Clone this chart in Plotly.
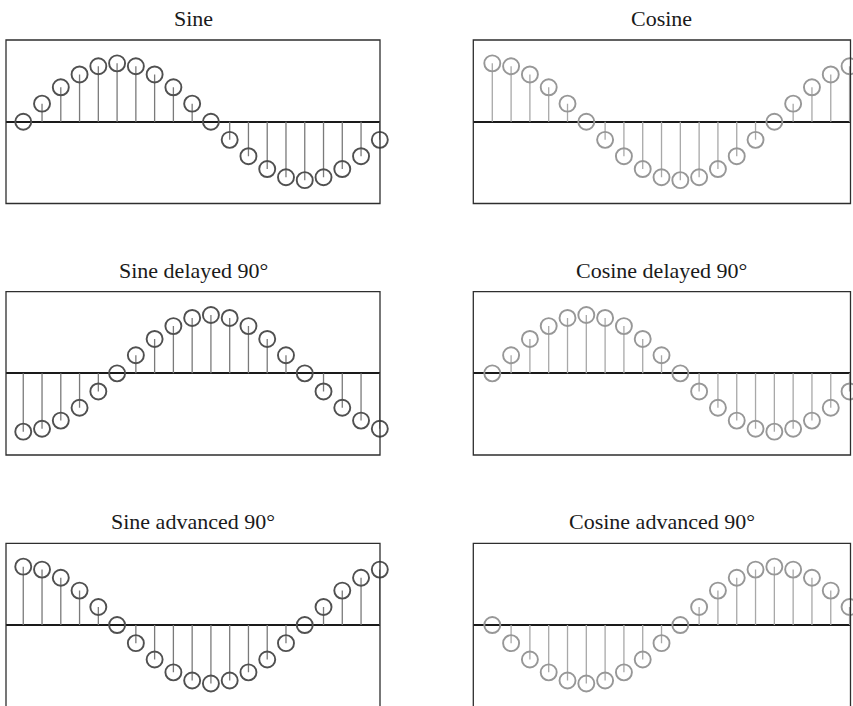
import plotly.graph_objects as go

# sample index shared by all panels
n = list(range(20))

sine = [0.0, 0.31, 0.59, 0.81, 0.95, 1.0, 0.95, 0.81, 0.59, 0.31,
        0.0, -0.31, -0.59, -0.81, -0.95, -1.0, -0.95, -0.81, -0.59, -0.31]
cosine = [1.0, 0.95, 0.81, 0.59, 0.31, 0.0, -0.31, -0.59, -0.81, -0.95,
          -1.0, -0.95, -0.81, -0.59, -0.31, 0.0, 0.31, 0.59, 0.81, 0.95]
sine_delayed = [-1.0, -0.95, -0.81, -0.59, -0.31, 0.0, 0.31, 0.59, 0.81, 0.95,
                1.0, 0.95, 0.81, 0.59, 0.31, 0.0, -0.31, -0.59, -0.81, -0.95]
cosine_delayed = [0.0, 0.31, 0.59, 0.81, 0.95, 1.0, 0.95, 0.81, 0.59, 0.31,
                  0.0, -0.31, -0.59, -0.81, -0.95, -1.0, -0.95, -0.81, -0.59, -0.31]
sine_advanced = [1.0, 0.95, 0.81, 0.59, 0.31, 0.0, -0.31, -0.59, -0.81, -0.95,
                 -1.0, -0.95, -0.81, -0.59, -0.31, 0.0, 0.31, 0.59, 0.81, 0.95]
cosine_advanced = [0.0, -0.31, -0.59, -0.81, -0.95, -1.0, -0.95, -0.81, -0.59, -0.31,
                   0.0, 0.31, 0.59, 0.81, 0.95, 1.0, 0.95, 0.81, 0.59, 0.31]

titles = ["Sine", "Cosine",
          "Sine delayed 90°", "Cosine delayed 90°",
          "Sine advanced 90°", "Cosine advanced 90°"]
series = [sine, cosine, sine_delayed, cosine_delayed, sine_advanced, cosine_advanced]

W, H = 853, 706

# panel geometry in pixels (left, right) / (top, bottom)
cols_px = [(6.0, 380.0), (473.3, 850.5)]
rows_px = [(40.0, 203.5), (291.7, 455.0), (543.3, 706.0)]
x_ranges = [[-0.92, 19.01], [-1.01, 19.05]]
y_ranges = [[-1.4, 1.4], [-1.4, 1.4], [-1.386, 1.4]]

marker_colors = ["#505050", "#979797"]
stem_colors = ["#7a7a7a", "#a8a8a8"]

fig = go.Figure()
shapes = []
annotations = []

for i, (title, vals) in enumerate(zip(titles, series)):
    r, c = divmod(i, 2)
    idx = i + 1
    xa = "x" if idx == 1 else f"x{idx}"
    ya = "y" if idx == 1 else f"y{idx}"

    # stems from the baseline up to each sample
    sx, sy = [], []
    for k, v in zip(n, vals):
        sx += [k, k, None]
        sy += [0, v, None]
    fig.add_trace(go.Scatter(
        x=sx, y=sy, mode="lines", xaxis=xa, yaxis=ya,
        line=dict(color=stem_colors[c], width=1.3),
        hoverinfo="skip", showlegend=False, cliponaxis=False))
    # open circle markers at the sample values
    fig.add_trace(go.Scatter(
        x=n, y=vals, mode="markers", xaxis=xa, yaxis=ya,
        marker=dict(symbol="circle-open", size=16,
                    line=dict(color=marker_colors[c], width=1.9),
                    color=marker_colors[c]),
        showlegend=False, cliponaxis=False))

    l, rr = cols_px[c]
    t, b = rows_px[r]
    xdom = [l / W, rr / W]
    ydom = [1 - b / H, 1 - t / H]
    axis_common = dict(showgrid=False, showticklabels=False, ticks="",
                       showline=False, fixedrange=True)
    fig.layout[("xaxis" if idx == 1 else f"xaxis{idx}")] = dict(
        domain=xdom, range=x_ranges[c], zeroline=False,
        anchor=ya, **axis_common)
    fig.layout[("yaxis" if idx == 1 else f"yaxis{idx}")] = dict(
        domain=ydom, range=y_ranges[r], zeroline=True,
        zerolinecolor="#1a1a1a", zerolinewidth=1.5,
        anchor=xa, **axis_common)

    # panel frame
    y0 = -0.05 if r == 2 else 0
    shapes.append(dict(type="rect", xref=f"{xa} domain", yref=f"{ya} domain",
                       x0=0, x1=1, y0=y0, y1=1,
                       line=dict(color="#2e2e2e", width=1.3), layer="above"))

    # panel title
    annotations.append(dict(text=title, xref="paper", yref="paper",
                            x=(l + rr) / 2 / W, y=1 - (t - 21.5) / H,
                            xanchor="center", yanchor="middle", showarrow=False,
                            font=dict(family="Liberation Serif", size=22,
                                      color="#1a1a1a")))

fig.update_layout(width=W, height=H, margin=dict(l=0, r=0, t=0, b=0),
                  paper_bgcolor="white", plot_bgcolor="white",
                  shapes=shapes, annotations=annotations, showlegend=False)

fig.write_html("out.html", config={"displayModeBar": False})
